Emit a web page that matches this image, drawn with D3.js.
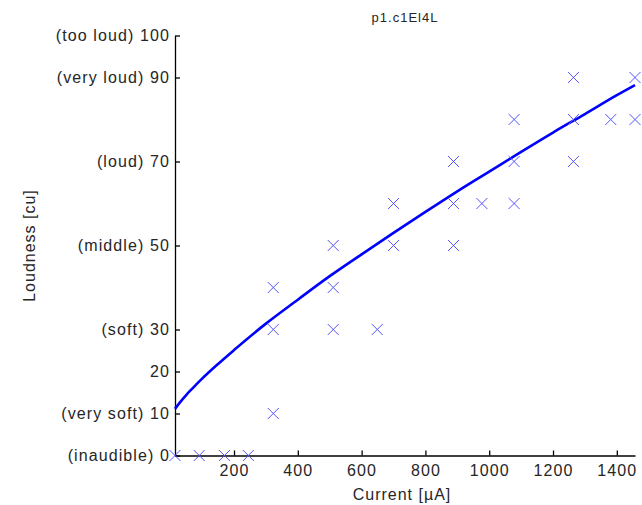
<!DOCTYPE html>
<html>
<head>
<meta charset="utf-8">
<script src="https://cdn.jsdelivr.net/npm/d3@7"></script>
<style>
  html, body { margin: 0; padding: 0; background: #fff; }
  svg { display: block; }
  text { font-family: "Liberation Sans", Arial, Helvetica, sans-serif; fill: #262626; }
</style>
</head>
<body>
<svg id="chart" width="642" height="505"></svg>
<script>
// Measured current steps (µA) and loudness ratings (cu) given at each step
const ratingCurrent = [15, 91, 170, 245,
  323, 323, 323,
  511, 511, 511,
  649,
  700, 700,
  888, 888, 888,
  977,
  1078, 1078, 1078,
  1264, 1264, 1264,
  1381,
  1457, 1457];
const ratingLoudness = [0, 0, 0, 0,
  10, 30, 40,
  30, 40, 50,
  30,
  50, 60,
  50, 60, 70,
  60,
  60, 70, 80,
  70, 80, 90,
  80,
  80, 90];

// Fitted loudness growth curve, sampled along the current range
const fitCurrent  = [15, 30, 50, 70, 100, 150, 200, 300, 400, 500, 600, 700, 800, 900, 1000, 1100, 1200, 1300, 1400, 1457];
const fitLoudness = [11.1, 12.6, 14.4, 16.0, 18.3, 21.8, 25.1, 31.4, 37.1, 42.7, 47.9, 53.0, 58.0, 62.9, 67.6, 72.3, 76.9, 81.3, 85.8, 88.2];

// Axis ticks
const xTicks = [200, 400, 600, 800, 1000, 1200, 1400];
const yTicks = [0, 10, 20, 30, 50, 70, 90, 100];
const yTickNames = ["(inaudible) 0", "(very soft) 10", "20", "(soft) 30",
  "(middle) 50", "(loud) 70", "(very loud) 90", "(too loud) 100"];

const titleText = "p1.c1El4L";
const xLabel = "Current [µA]";
const yLabel = "Loudness [cu]";

const svg = d3.select("#chart");
const plotLeft = 175, plotRight = 635, plotTop = 35.5, plotBottom = 455.5;

const x = d3.scaleLinear().domain([d3.min(ratingCurrent), d3.max(ratingCurrent)]).range([plotLeft, plotRight]);
const y = d3.scaleLinear().domain([0, 100]).range([plotBottom, plotTop]);

// Axes with inward-pointing ticks
const xAxis = d3.axisBottom(x).tickValues(xTicks).tickFormat(d3.format("d"))
  .tickSizeInner(-5).tickSizeOuter(0).tickPadding(9);
const yAxis = d3.axisLeft(y).tickValues(yTicks)
  .tickFormat((d, i) => yTickNames[i])
  .tickSizeInner(-5).tickSizeOuter(0).tickPadding(5);

const gx = svg.append("g").attr("transform", `translate(0,${plotBottom})`).call(xAxis);
const gy = svg.append("g").attr("transform", `translate(${plotLeft},0)`).call(yAxis);

[gx, gy].forEach(g => {
  g.selectAll(".domain").attr("stroke", "#000").attr("stroke-width", 1.3);
  g.selectAll(".tick line").attr("stroke", "#000").attr("stroke-width", 1.3);
  g.selectAll(".tick text")
    .attr("fill", "#262626")
    .style("font-family", "'Liberation Sans', Arial, sans-serif")
    .style("font-size", "16px")
    .style("letter-spacing", "1.1px");
});

// Fitted curve
const line = d3.line()
  .x((d, i) => x(fitCurrent[i]))
  .y(d => y(d))
  .curve(d3.curveMonotoneX);

svg.append("path")
  .datum(fitLoudness)
  .attr("d", line)
  .attr("fill", "none")
  .attr("stroke", "#0000ff")
  .attr("stroke-width", 2.6);

// Rating markers (crosses)
const s = 5.5;
svg.append("g")
  .selectAll("path")
  .data(ratingLoudness)
  .join("path")
  .attr("d", (d, i) => {
    const cx = x(ratingCurrent[i]), cy = y(d);
    return `M${cx - s},${cy - s}L${cx + s},${cy + s}M${cx - s},${cy + s}L${cx + s},${cy - s}`;
  })
  .attr("fill", "none")
  .attr("stroke", "#5555ff")
  .attr("stroke-width", 1);

// Title and axis labels
svg.append("text")
  .attr("x", (plotLeft + plotRight) / 2)
  .attr("y", 22)
  .attr("text-anchor", "middle")
  .style("font-size", "13px")
  .style("letter-spacing", "1px")
  .text(titleText);

svg.append("text")
  .attr("x", 402)
  .attr("y", 500)
  .attr("text-anchor", "middle")
  .style("font-size", "16px")
  .style("letter-spacing", "1px")
  .text(xLabel);

svg.append("text")
  .attr("transform", `translate(35,${(plotTop + plotBottom) / 2}) rotate(-90)`)
  .attr("text-anchor", "middle")
  .style("font-size", "16px")
  .style("letter-spacing", "1px")
  .text(yLabel);
</script>
</body>
</html>
